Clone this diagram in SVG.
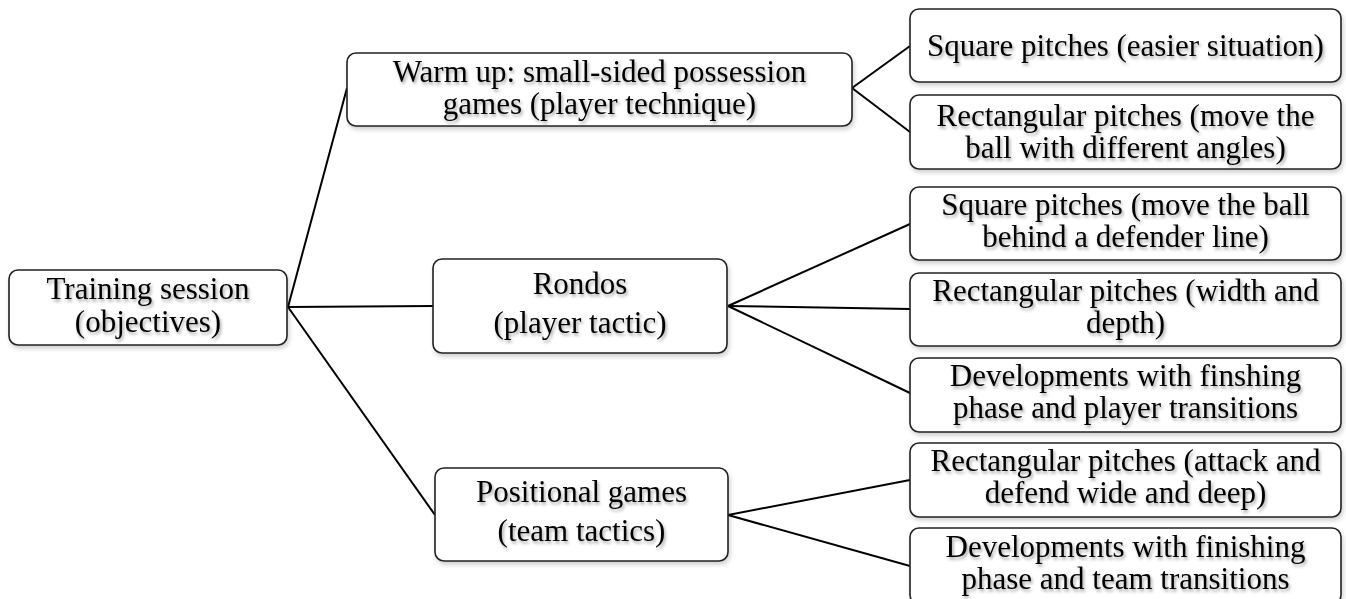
<svg xmlns="http://www.w3.org/2000/svg" width="1346" height="599" viewBox="0 0 1346 599">
<defs>
<filter id="ts" x="-10%" y="-30%" width="120%" height="170%">
<feDropShadow dx="1.5" dy="2.5" stdDeviation="1.4" flood-color="#000" flood-opacity="0.35"/>
</filter>
<filter id="bs" x="-5%" y="-10%" width="110%" height="130%">
<feDropShadow dx="1.5" dy="3" stdDeviation="2" flood-color="#000" flood-opacity="0.18"/>
</filter>
</defs>
<style>
rect.box{fill:#fff;stroke:#222;stroke-width:1.6;filter:url(#bs)}
text{font-family:"Liberation Serif","Times New Roman",serif;font-size:31px;fill:#000;text-anchor:middle;filter:url(#ts)}
#connectors line{stroke:#000;stroke-width:2}
</style>
<rect width="1346" height="599" fill="#fff"/>
<g id="connectors">
<line x1="288" y1="307" x2="347" y2="88"/>
<line x1="288" y1="307" x2="433" y2="306"/>
<line x1="288" y1="307" x2="435" y2="515"/>
<line x1="852" y1="88" x2="910" y2="46"/>
<line x1="852" y1="88" x2="910" y2="132"/>
<line x1="728" y1="306" x2="910" y2="224"/>
<line x1="728" y1="306" x2="910" y2="309"/>
<line x1="728" y1="306" x2="910" y2="393"/>
<line x1="728" y1="515" x2="910" y2="480"/>
<line x1="728" y1="515" x2="910" y2="566"/>
</g>
<g id="root">
<rect class="box" x="9" y="270" width="278" height="75" rx="9"/>
<text x="148" y="299">Training session</text>
<text x="148" y="332">(objectives)</text>
</g>
<g id="warmup">
<rect class="box" x="347" y="53" width="505" height="73" rx="9"/>
<text x="599.5" y="82">Warm up: small-sided possession</text>
<text x="599.5" y="114">games (player technique)</text>
</g>
<g id="rondos">
<rect class="box" x="433" y="259" width="294" height="94" rx="9"/>
<text x="580" y="294">Rondos</text>
<text x="580" y="333">(player tactic)</text>
</g>
<g id="positional">
<rect class="box" x="435" y="468" width="293" height="93" rx="9"/>
<text x="581.5" y="502">Positional games</text>
<text x="581.5" y="541">(team tactics)</text>
</g>
<g id="sq1">
<rect class="box" x="910" y="9" width="431" height="73" rx="9"/>
<text x="1125.5" y="56">Square pitches (easier situation)</text>
</g>
<g id="rect1">
<rect class="box" x="910" y="95" width="431" height="74" rx="9"/>
<text x="1125.5" y="126">Rectangular pitches (move the</text>
<text x="1125.5" y="158">ball with different angles)</text>
</g>
<g id="sq2">
<rect class="box" x="910" y="187" width="431" height="73" rx="9"/>
<text x="1125.5" y="215">Square pitches (move the ball</text>
<text x="1125.5" y="247">behind a defender line)</text>
</g>
<g id="rect2">
<rect class="box" x="910" y="273" width="431" height="73" rx="9"/>
<text x="1125.5" y="301">Rectangular pitches (width and</text>
<text x="1125.5" y="333">depth)</text>
</g>
<g id="dev1">
<rect class="box" x="910" y="358" width="431" height="74" rx="9"/>
<text x="1125.5" y="386">Developments with finshing</text>
<text x="1125.5" y="418">phase and player transitions</text>
</g>
<g id="rect3">
<rect class="box" x="910" y="443" width="431" height="74" rx="9"/>
<text x="1125.5" y="471">Rectangular pitches (attack and</text>
<text x="1125.5" y="503">defend wide and deep)</text>
</g>
<g id="dev2">
<rect class="box" x="910" y="528" width="431" height="76" rx="9"/>
<text x="1125.5" y="557">Developments with finishing</text>
<text x="1125.5" y="589">phase and team transitions</text>
</g>
</svg>
